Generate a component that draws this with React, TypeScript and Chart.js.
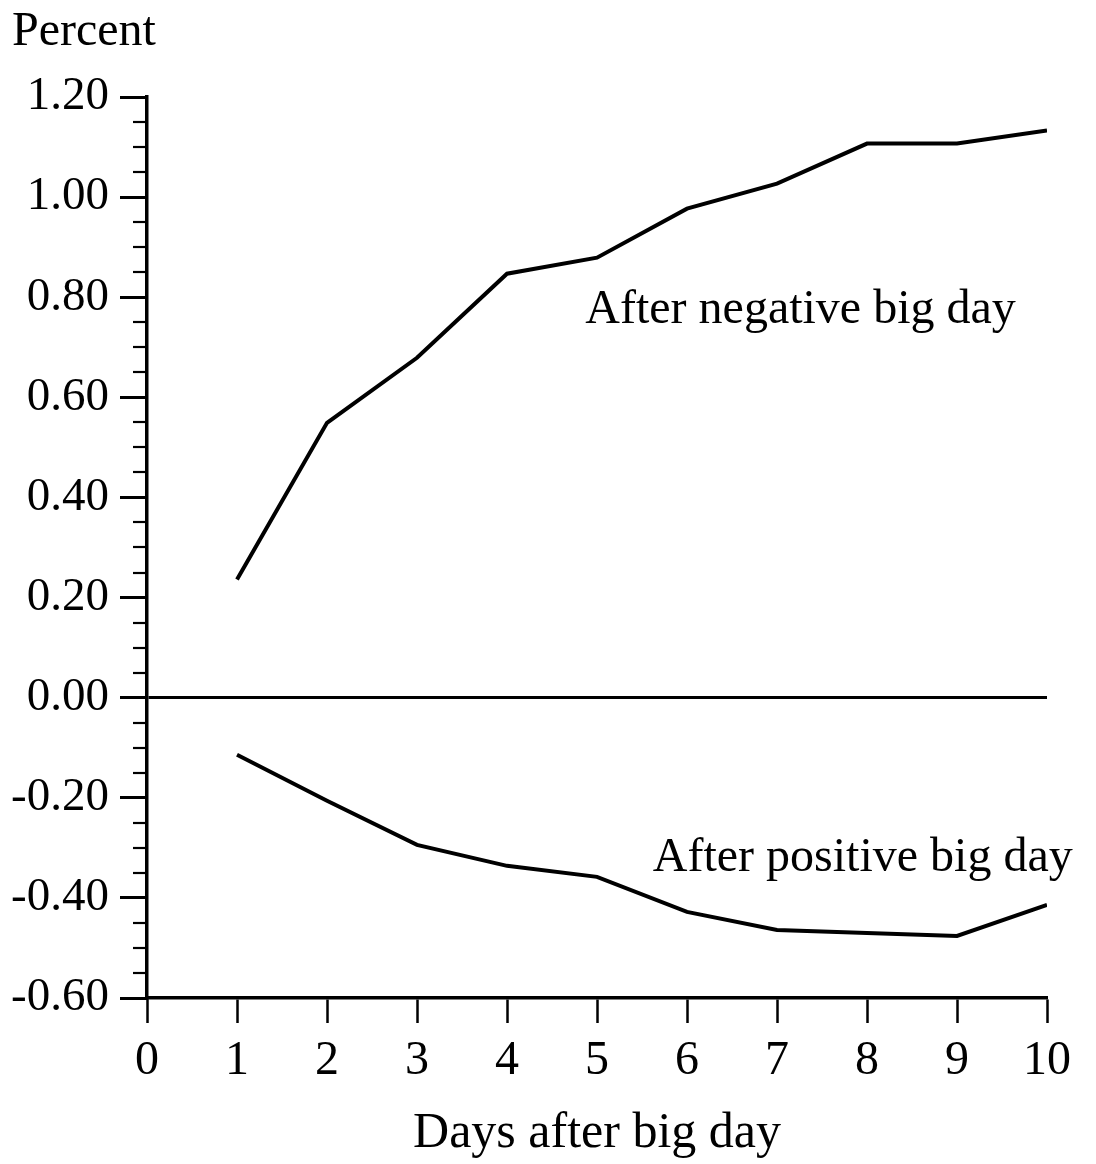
import React, { useEffect, useRef } from "react";
import { Chart, registerables } from "chart.js";

Chart.register(...registerables);

// ---- data ----
const days = [1, 2, 3, 4, 5, 6, 7, 8, 9, 10];
const afterNegative = [0.236, 0.549, 0.679, 0.847, 0.879, 0.977, 1.027, 1.107, 1.107, 1.133];
const afterPositive = [-0.114, -0.206, -0.294, -0.336, -0.358, -0.428, -0.464, -0.47, -0.476, -0.414];
const xRange = [0, 10];
const yRange = [-0.6, 1.2];
const yMajorStep = 0.2;
const yMinorStep = 0.05;
const yAxisTitle = "Percent";
const xAxisTitle = "Days after big day";
const seriesLabels = ["After negative big day", "After positive big day"];
// label anchors in data units (x, y)
const labelAnchors = [
  [4.87, 0.749],
  [5.62, -0.346],
];

const FONT = "'Liberation Serif', 'Times New Roman', serif";

const overlayPlugin = {
  id: "overlay",
  afterDatasetsDraw(chart: any) {
    const ctx = chart.ctx;
    const ys = chart.scales.y;
    const xs = chart.scales.x;
    ctx.save();
    // minor ticks on y axis
    ctx.strokeStyle = "#000";
    ctx.lineWidth = 2.2;
    const n = Math.round((yRange[1] - yRange[0]) / yMinorStep);
    for (let i = 0; i <= n; i++) {
      const v = yRange[0] + i * yMinorStep;
      const r = v / yMajorStep;
      if (Math.abs(r - Math.round(r)) < 1e-6) continue;
      const py = Math.round(ys.getPixelForValue(v));
      ctx.beginPath();
      ctx.moveTo(ys.right - 14, py);
      ctx.lineTo(ys.right, py);
      ctx.stroke();
    }
    // texts
    ctx.fillStyle = "#000";
    ctx.textBaseline = "alphabetic";
    ctx.textAlign = "left";
    ctx.font = `48px ${FONT}`;
    ctx.fillText(yAxisTitle, 12, 45);
    seriesLabels.forEach((t, i) => {
      const [vx, vy] = labelAnchors[i];
      ctx.fillText(t, xs.getPixelForValue(vx), ys.getPixelForValue(vy));
    });
    ctx.restore();
  },
};

export default function App() {
  const ref = useRef<HTMLCanvasElement | null>(null);
  useEffect(() => {
    if (!ref.current) return;
    const chart = new Chart(ref.current, {
      type: "line",
      data: {
        datasets: [
          {
            label: seriesLabels[0],
            data: days.map((d, i) => ({ x: d, y: afterNegative[i] })),
            borderColor: "#000",
            borderWidth: 4,
            pointRadius: 0,
            tension: 0,
          },
          {
            label: seriesLabels[1],
            data: days.map((d, i) => ({ x: d, y: afterPositive[i] })),
            borderColor: "#000",
            borderWidth: 4,
            pointRadius: 0,
            tension: 0,
          },
        ],
      },
      options: {
        responsive: false,
        animation: false,
        devicePixelRatio: 1,
        layout: { padding: { top: 97, right: 49, left: 0, bottom: 0 } },
        plugins: { legend: { display: false }, tooltip: { enabled: false } },
        scales: {
          x: {
            type: "linear",
            min: xRange[0],
            max: xRange[1],
            border: { color: "#000", width: 3.5 },
            grid: {
              drawOnChartArea: false,
              drawTicks: true,
              tickLength: 25,
              tickColor: "#000",
              tickWidth: 2.5,
            },
            ticks: {
              stepSize: 1,
              color: "#000",
              font: { family: FONT, size: 48 },
              padding: 10,
              maxRotation: 0,
              autoSkip: false,
            },
            title: {
              display: true,
              text: xAxisTitle,
              color: "#000",
              font: { family: FONT, size: 50 },
              padding: { top: 0, bottom: 0 },
            },
            afterFit(scale: any) {
              scale.height = 166;
            },
          },
          y: {
            type: "linear",
            min: yRange[0],
            max: yRange[1],
            border: { color: "#000", width: 3.5 },
            grid: {
              drawOnChartArea: true,
              color: (c: any) =>
                c.tick && Math.abs(c.tick.value) < 1e-9 ? "#000" : "rgba(0,0,0,0)",
              lineWidth: 3,
              tickLength: 27,
              tickColor: "#000",
              tickWidth: 3,
            },
            ticks: {
              stepSize: yMajorStep,
              color: "#000",
              font: { family: FONT, size: 47 },
              padding: 11,
              callback: (v: any) => Number(v).toFixed(2),
            },
            afterFit(scale: any) {
              scale.width = 147;
            },
          },
        },
      },
      plugins: [overlayPlugin],
    });
    return () => chart.destroy();
  }, []);
  return (
    <div style={{ position: "fixed", left: 0, top: 0, width: 1096, height: 1164, background: "#fff" }}>
      <canvas ref={ref} width={1096} height={1164} style={{ width: 1096, height: 1164 }} />
    </div>
  );
}
